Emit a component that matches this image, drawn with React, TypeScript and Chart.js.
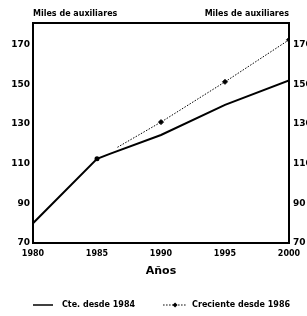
import React, { useEffect, useRef } from "react";
import { Chart, registerables } from "chart.js";

Chart.register(...registerables);

const yearsConstante = [1980, 1985, 1986, 1990, 1995, 2000];
const valoresConstante = [80, 112.5, 115, 124.5, 139.7, 152];
const yearsCreciente = [1986.6, 1990, 1995, 2000];
const valoresCreciente = [118.3, 131, 151.3, 172.5];
const yTickValues = [70, 90, 110, 130, 150, 170];
const xTickValues = [1980, 1985, 1990, 1995, 2000];
const leftTitle = "Miles de auxiliares";
const rightTitle = "Miles de auxiliares";
const xTitle = "Años";
const serieLabels = ["Cte. desde 1984", "Creciente desde 1986"];

const FONT = "'DejaVu Sans', sans-serif";

export default function App() {
  const ref = useRef<HTMLCanvasElement | null>(null);

  useEffect(() => {
    if (!ref.current) return;

    const textPlugin = {
      id: "extraText",
      afterDraw(chart: any) {
        const ctx = chart.ctx;
        const ca = chart.chartArea;
        ctx.save();
        ctx.fillStyle = "#000";
        ctx.font = `bold 8px ${FONT}`;
        ctx.textBaseline = "middle";
        ctx.textAlign = "left";
        ctx.fillText(leftTitle, ca.left, 14);
        ctx.textAlign = "right";
        ctx.fillText(rightTitle, ca.right, 14);

        // legend
        const y = 305;
        let x = ca.left;
        ctx.textAlign = "left";
        chart.data.datasets.forEach((ds: any, i: number) => {
          const w = i === 0 ? 20 : 24;
          ctx.strokeStyle = ds.borderColor;
          ctx.lineWidth = i === 0 ? 1.5 : 1;
          ctx.setLineDash(ds.borderDash || []);
          ctx.beginPath();
          ctx.moveTo(x, y);
          ctx.lineTo(x + w, y);
          ctx.stroke();
          ctx.setLineDash([]);
          if (i === 1) {
            ctx.fillStyle = "#000";
            ctx.beginPath();
            ctx.moveTo(x + w / 2, y - 2.5);
            ctx.lineTo(x + w / 2 + 2.5, y);
            ctx.lineTo(x + w / 2, y + 2.5);
            ctx.lineTo(x + w / 2 - 2.5, y);
            ctx.closePath();
            ctx.fill();
          }
          ctx.fillStyle = "#000";
          const tx = x + w + (i === 0 ? 9 : 5);
          ctx.fillText(ds.label, tx, y);
          x = tx + ctx.measureText(ds.label).width + 28;
        });
        ctx.restore();
      },
    };

    const tickFont = { family: FONT, size: 8, weight: "bold" as const };
    const yTickFont = { family: FONT, size: 9, weight: "bold" as const };

    const chart = new Chart(ref.current, {
      type: "line",
      data: {
        datasets: [
          {
            label: serieLabels[0],
            data: yearsConstante.map((x, i) => ({ x, y: valoresConstante[i] })),
            borderColor: "#000",
            backgroundColor: "#000",
            borderWidth: 2,
            pointRadius: yearsConstante.map((yr) => (yr === 1985 ? 1.5 : 0)),
            tension: 0,
            xAxisID: "x",
            yAxisID: "y",
          },
          {
            label: serieLabels[1],
            data: yearsCreciente.map((x, i) => ({ x, y: valoresCreciente[i] })),
            borderColor: "#000",
            backgroundColor: "#000",
            borderWidth: 1,
            borderDash: [1.5, 1.5],
            pointStyle: "rectRot",
            pointRadius: yearsCreciente.map((_, i) => (i === 0 ? 0 : 2.5)),
            tension: 0,
            xAxisID: "x",
            yAxisID: "y",
          },
        ],
      },
      options: {
        responsive: false,
        animation: false,
        layout: { padding: { top: 23, left: 0, right: 0, bottom: 0 } },
        plugins: {
          legend: { display: false },
          tooltip: { enabled: false },
        },
        scales: {
          x: {
            type: "linear",
            position: "bottom",
            min: 1980,
            max: 2000,
            afterBuildTicks: (s: any) => {
              s.ticks = xTickValues.map((v) => ({ value: v }));
            },
            afterFit: (s: any) => {
              s.height = 73;
            },
            grid: { display: false, drawTicks: false },
            border: { display: true, color: "#000", width: 2 },
            ticks: {
              color: "#000",
              font: tickFont,
              padding: 6,
              maxRotation: 0,
              autoSkip: false,
              callback: (v: any) => String(v),
            },
            title: {
              display: true,
              text: xTitle,
              color: "#000",
              font: { family: FONT, size: 11, weight: "bold" },
              padding: { top: 0, bottom: 38 },
            },
          },
          xTop: {
            type: "linear",
            position: "top",
            min: 1980,
            max: 2000,
            afterFit: (s: any) => {
              s.height = 0;
            },
            grid: { display: false, drawTicks: false },
            border: { display: true, color: "#000", width: 2 },
            ticks: { display: false },
          },
          y: {
            type: "linear",
            position: "left",
            min: 70,
            max: 181,
            afterBuildTicks: (s: any) => {
              s.ticks = yTickValues.map((v) => ({ value: v }));
            },
            afterFit: (s: any) => {
              s.width = 33;
            },
            grid: { display: false, drawTicks: false },
            border: { display: true, color: "#000", width: 2 },
            ticks: { color: "#000", font: yTickFont, padding: 3 },
          },
          y2: {
            type: "linear",
            position: "right",
            min: 70,
            max: 181,
            afterBuildTicks: (s: any) => {
              s.ticks = yTickValues.map((v) => ({ value: v }));
            },
            afterFit: (s: any) => {
              s.width = 18;
            },
            grid: { display: false, drawTicks: false },
            border: { display: true, color: "#000", width: 2 },
            ticks: { color: "#000", font: yTickFont, padding: 4 },
          },
        },
      },
      plugins: [textPlugin],
    });

    return () => chart.destroy();
  }, []);

  return (
    <div style={{ position: "fixed", left: 0, top: 0, width: 307, height: 316, background: "#fff" }}>
      <canvas ref={ref} width={307} height={316} />
    </div>
  );
}
